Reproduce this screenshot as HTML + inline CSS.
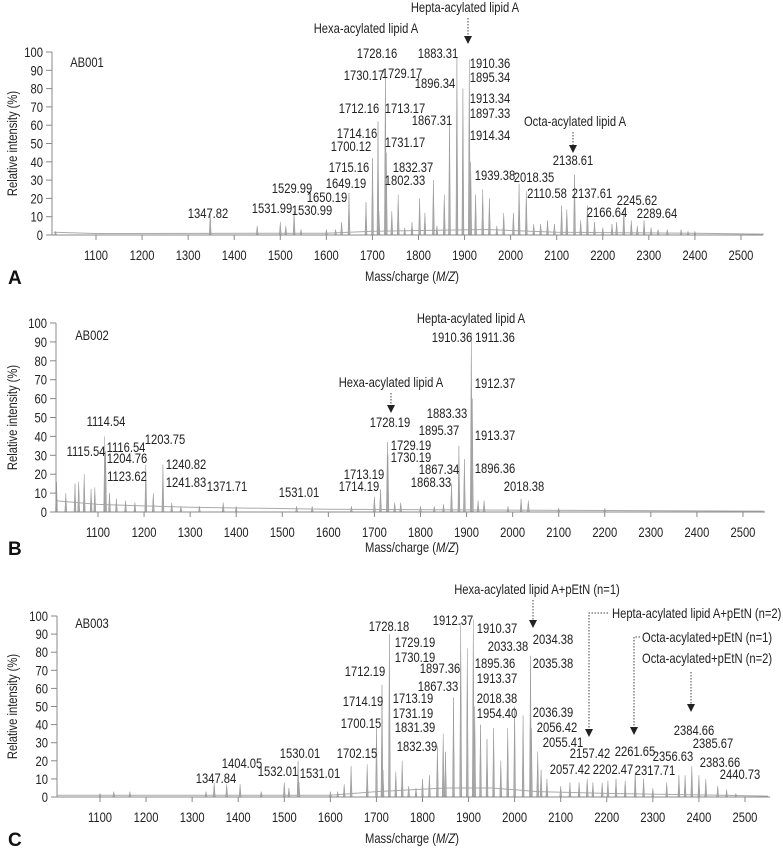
<!DOCTYPE html>
<html><head><meta charset="utf-8">
<style>
html,body{margin:0;padding:0;background:#fff;}
svg{display:block;font-family:"Liberation Sans",sans-serif;}
.lbl{font-size:14px;fill:#222;text-anchor:middle;}
.ann{font-size:14px;fill:#222;}
.tick{font-size:14px;fill:#222;}
.ttl{font-size:14px;fill:#222;}
.pl{font-size:19px;font-weight:bold;fill:#111;font-family:"Liberation Sans",sans-serif;}
</style></head>
<body>
<svg id="fig" width="783" height="853" viewBox="0 0 783 853" xmlns="http://www.w3.org/2000/svg">
<g id="panelA"></g>
<g id="panelB"></g>
<g id="panelC"></g>

<g>
<text class="ann" x="87" y="67" text-anchor="middle">AB001</text>
<text class="ann" x="366" y="33" text-anchor="middle">Hexa-acylated lipid A</text>
<text class="ann" x="465" y="12" text-anchor="middle">Hepta-acylated lipid A</text>
<line x1="468" y1="18" x2="468" y2="36" stroke="#444" stroke-dasharray="1.5,1.5"/>
<polygon points="464,36 472,36 468,44" fill="#222"/>
<text class="ann" x="575" y="126" text-anchor="middle">Octa-acylated lipid A</text>
<line x1="573" y1="132" x2="573" y2="145" stroke="#444" stroke-dasharray="1.5,1.5"/>
<polygon points="569,145 577,145 573,153" fill="#222"/>
<text class="lbl" x="208" y="218">1347.82</text>
<text class="lbl" x="292" y="193">1529.99</text>
<text class="lbl" x="272" y="213">1531.99</text>
<text class="lbl" x="312" y="215">1530.99</text>
<text class="lbl" x="327" y="202">1650.19</text>
<text class="lbl" x="346" y="188">1649.19</text>
<text class="lbl" x="349" y="172">1715.16</text>
<text class="lbl" x="351" y="151">1700.12</text>
<text class="lbl" x="357" y="138">1714.16</text>
<text class="lbl" x="359" y="113">1712.16</text>
<text class="lbl" x="364" y="80">1730.17</text>
<text class="lbl" x="377" y="58">1728.16</text>
<text class="lbl" x="402" y="78">1729.17</text>
<text class="lbl" x="405" y="113">1713.17</text>
<text class="lbl" x="405" y="147">1731.17</text>
<text class="lbl" x="413" y="172">1832.37</text>
<text class="lbl" x="405" y="185">1802.33</text>
<text class="lbl" x="432" y="125">1867.31</text>
<text class="lbl" x="435" y="88">1896.34</text>
<text class="lbl" x="438" y="58">1883.31</text>
<text class="lbl" x="490" y="68">1910.36</text>
<text class="lbl" x="490" y="82">1895.34</text>
<text class="lbl" x="490" y="103">1913.34</text>
<text class="lbl" x="490" y="118">1897.33</text>
<text class="lbl" x="490" y="140">1914.34</text>
<text class="lbl" x="495" y="180">1939.38</text>
<text class="lbl" x="534" y="182">2018.35</text>
<text class="lbl" x="547" y="198">2110.58</text>
<text class="lbl" x="573" y="165">2138.61</text>
<text class="lbl" x="592" y="198">2137.61</text>
<text class="lbl" x="607" y="217">2166.64</text>
<text class="lbl" x="637" y="205">2245.62</text>
<text class="lbl" x="657" y="218">2289.64</text>
</g>

<g>
<text class="ann" x="92" y="340" text-anchor="middle">AB002</text>
<text class="ann" x="471" y="323" text-anchor="middle">Hepta-acylated lipid A</text>
<text class="ann" x="391" y="387" text-anchor="middle">Hexa-acylated lipid A</text>
<line x1="391" y1="393" x2="391" y2="405" stroke="#444" stroke-dasharray="1.5,1.5"/>
<polygon points="387,405 395,405 391,413" fill="#222"/>
<text class="lbl" x="452" y="342">1910.36</text>
<text class="lbl" x="495" y="342">1911.36</text>
<text class="lbl" x="495" y="388">1912.37</text>
<text class="lbl" x="390" y="427">1728.19</text>
<text class="lbl" x="447" y="418">1883.33</text>
<text class="lbl" x="439" y="435">1895.37</text>
<text class="lbl" x="495" y="440">1913.37</text>
<text class="lbl" x="411" y="450">1729.19</text>
<text class="lbl" x="411" y="462">1730.19</text>
<text class="lbl" x="439" y="474">1867.34</text>
<text class="lbl" x="495" y="473">1896.36</text>
<text class="lbl" x="431" y="487">1868.33</text>
<text class="lbl" x="364" y="479">1713.19</text>
<text class="lbl" x="359" y="491">1714.19</text>
<text class="lbl" x="524" y="491">2018.38</text>
<text class="lbl" x="299" y="497">1531.01</text>
<text class="lbl" x="227" y="491">1371.71</text>
<text class="lbl" x="106" y="426">1114.54</text>
<text class="lbl" x="86" y="456">1115.54</text>
<text class="lbl" x="126" y="452">1116.54</text>
<text class="lbl" x="165" y="444">1203.75</text>
<text class="lbl" x="127" y="463">1204.76</text>
<text class="lbl" x="186" y="469">1240.82</text>
<text class="lbl" x="127" y="481">1123.62</text>
<text class="lbl" x="186" y="487">1241.83</text>
</g>

<g>
<text class="ann" x="92" y="628" text-anchor="middle">AB003</text>
<text class="ann" x="537" y="594" text-anchor="middle">Hexa-acylated lipid A+pEtN (n=1)</text>
<line x1="533" y1="600" x2="533" y2="620" stroke="#444" stroke-dasharray="1.5,1.5"/>
<polygon points="529,620 537,620 533,628" fill="#222"/>
<text class="ann" x="612" y="618">Hepta-acylated lipid A+pEtN (n=2)</text>
<polyline points="608,613 589,613 589,729" fill="none" stroke="#444" stroke-dasharray="1.5,1.5"/>
<polygon points="585,729 593,729 589,737" fill="#222"/>
<text class="ann" x="642" y="642">Octa-acylated+pEtN (n=1)</text>
<polyline points="640,637 634,637 634,727" fill="none" stroke="#444" stroke-dasharray="1.5,1.5"/>
<polygon points="630,727 638,727 634,735" fill="#222"/>
<text class="ann" x="642" y="663">Octa-acylated+pEtN (n=2)</text>
<line x1="691" y1="672" x2="691" y2="704" stroke="#444" stroke-dasharray="1.5,1.5"/>
<polygon points="687,704 695,704 691,712" fill="#222"/>
<text class="lbl" x="216" y="783">1347.84</text>
<text class="lbl" x="242" y="768">1404.05</text>
<text class="lbl" x="278" y="776">1532.01</text>
<text class="lbl" x="300" y="758">1530.01</text>
<text class="lbl" x="320" y="778">1531.01</text>
<text class="lbl" x="357" y="758">1702.15</text>
<text class="lbl" x="361" y="728">1700.15</text>
<text class="lbl" x="363" y="706">1714.19</text>
<text class="lbl" x="365" y="676">1712.19</text>
<text class="lbl" x="389" y="631">1728.18</text>
<text class="lbl" x="415" y="647">1729.19</text>
<text class="lbl" x="415" y="662">1730.19</text>
<text class="lbl" x="440" y="673">1897.36</text>
<text class="lbl" x="438" y="691">1867.33</text>
<text class="lbl" x="413" y="703">1713.19</text>
<text class="lbl" x="413" y="718">1731.19</text>
<text class="lbl" x="415" y="732">1831.39</text>
<text class="lbl" x="417" y="751">1832.39</text>
<text class="lbl" x="453" y="625">1912.37</text>
<text class="lbl" x="497" y="633">1910.37</text>
<text class="lbl" x="508" y="651">2033.38</text>
<text class="lbl" x="495" y="668">1895.36</text>
<text class="lbl" x="497" y="683">1913.37</text>
<text class="lbl" x="497" y="703">2018.38</text>
<text class="lbl" x="497" y="718">1954.40</text>
<text class="lbl" x="553" y="644">2034.38</text>
<text class="lbl" x="553" y="668">2035.38</text>
<text class="lbl" x="553" y="717">2036.39</text>
<text class="lbl" x="557" y="732">2056.42</text>
<text class="lbl" x="563" y="747">2055.41</text>
<text class="lbl" x="590" y="758">2157.42</text>
<text class="lbl" x="570" y="774">2057.42</text>
<text class="lbl" x="613" y="774">2202.47</text>
<text class="lbl" x="635" y="756">2261.65</text>
<text class="lbl" x="655" y="775">2317.71</text>
<text class="lbl" x="673" y="761">2356.63</text>
<text class="lbl" x="694" y="735">2384.66</text>
<text class="lbl" x="713" y="748">2385.67</text>
<text class="lbl" x="720" y="767">2383.66</text>
<text class="lbl" x="740" y="779">2440.73</text>
</g>
</svg>
<script>
const xTickValues = [1100,1200,1300,1400,1500,1600,1700,1800,1900,2000,2100,2200,2300,2400,2500];
const yTickValues = [0,10,20,30,40,50,60,70,80,90,100];

const mzA  = [1012,1347.82,1450,1500,1512,1529.99,1545,1600,1620,1633,1649.19,1686,1700.12,1712.16,1714.16,1728.16,1730.17,1742,1756,1770,1786,1802.33,1814,1832.37,1840,1856,1867.31,1883.31,1896.34,1910.36,1913.34,1924,1939.38,1954,1970,1985,2006,2018.35,2034,2050,2065,2080,2095,2110.58,2122,2138.61,2152,2166.64,2182,2200,2220,2230,2245.62,2262,2275,2289.64,2305,2320,2340,2370,2385,2400];
const intA = [2,12,5,7,5,13,3,3,3,7,23,18,42,62,13,91,45,13,22,4,7,20,12,30,5,22,62,97,80,96,40,22,25,20,5,12,12,28,24,6,6,8,6,16,14,33,8,16,7,4,6,7,14,8,5,8,4,3,3,3,2,2];
const baseMzA  = [1008,1100,1600,1700,1950,2100,2400,2550];
const baseIntA = [1.5,0.8,1,2,3,1.5,1,0.5];

const mzB  = [1010,1030,1050,1058,1070,1085,1093,1114.54,1116.54,1125,1140,1160,1180,1203.75,1220,1240.82,1260,1280,1320,1371.71,1400,1531.01,1565,1650,1700,1713.19,1728.19,1729.19,1744,1757,1800,1830,1850,1867.34,1883.33,1895.37,1910.36,1912.37,1925,1938,1990,2018.38,2034,2100,2200];
const intB = [16,10,15,16,20,12,13,40,32,10,7,6,5,25,10,25,5,3,3,5,3,3,3,3,8,12,37,30,5,5,3,3,4,15,35,28,95,60,6,6,3,7,6,2,2];
const baseMzB  = [1008,1100,1300,1600,2000,2545];
const baseIntB = [6,4,2.5,1.5,1,0.5];

const mzC  = [1100,1130,1165,1330,1347.84,1375,1404.05,1450,1500,1510,1530.01,1532.01,1600,1616,1630,1645,1680,1700.15,1712.19,1714.19,1728.18,1742,1756,1770,1786,1800,1815,1832.39,1845,1850,1867.33,1883,1897.36,1910.37,1913.37,1926,1940,1954.4,1970,1985,2000,2018.38,2034.38,2036.39,2050,2057.42,2070,2100,2120,2140,2157.42,2170,2190,2202.47,2220,2240,2261.65,2280,2300,2330,2356.63,2370,2384.66,2400,2415,2440.73,2460,2480];
const intC = [2,3,3,3,8,7,7,3,8,5,20,8,3,3,7,17,18,38,62,15,90,14,20,6,5,10,12,28,35,25,55,96,82,98,50,40,32,38,20,38,50,45,78,38,25,15,10,6,8,8,10,8,8,9,10,9,14,10,5,8,12,12,17,12,10,6,4,2];
const baseMzC  = [1008,1600,1700,1850,1950,2050,2200,2450,2550];
const baseIntC = [1,1,3,5,5,3,2,1,0.5];

const panels = {
  A:{id:'panelA', x1100:96, y0:235, y100:52, left:52, right:763, title:281, letter:'A'},
  B:{id:'panelB', x1100:98, y0:512, y100:323, left:56, right:765, title:552, letter:'B'},
  C:{id:'panelC', x1100:100, y0:797, y100:616, left:57, right:770, title:843, letter:'C'}
};
const NS='http://www.w3.org/2000/svg';
function mk(tag, attrs, parent){
  const e=document.createElementNS(NS,tag);
  for(const k in attrs) e.setAttribute(k, attrs[k]);
  parent.appendChild(e); return e;
}
function drawPanel(p, mz, inten, bMz, bInt, key){
  const g=document.getElementById(p.id);
  const xs = m => p.x1100 + (m-1100)*0.4607;
  const ys = v => p.y0 - (v/100)*(p.y0-p.y100);
  let pts=[];
  for(let i=0;i<bMz.length;i++) pts.push(xs(Math.max(bMz[i],1008)).toFixed(1)+','+ys(bInt[i]).toFixed(1));
  const base=mk('polyline',{points:pts.join(' '),fill:'none',stroke:'#aaa','stroke-width':1},g);
  
  
  for(let i=0;i<mz.length;i++){
    const x=xs(mz[i]), y=ys(inten[i]), yb=p.y0;
    const pk=mk('polygon',{points:`${(x-1).toFixed(1)},${yb} ${x.toFixed(1)},${y.toFixed(1)} ${(x+1).toFixed(1)},${yb}`,fill:'#aaa',stroke:'#999','stroke-width':0.5},g);
    
    
  }
  const ax=mk('line',{x1:p.left,y1:p.y0,x2:p.right,y2:p.y0,stroke:'#888','stroke-width':1},g);
  
  
  const ay=mk('line',{x1:p.left,y1:p.y0,x2:p.left,y2:p.y100,stroke:'#888','stroke-width':1},g);
  
  
  xTickValues.forEach(v=>{
    const x=xs(v);
    mk('line',{x1:x,y1:p.y0,x2:x,y2:p.y0+5,stroke:'#888'},g);
    const t=mk('text',{x:x,y:p.y0+25,class:'tick','text-anchor':'middle'},g);
    t.textContent=v;
    
    
  });
  yTickValues.forEach(v=>{
    const y=ys(v);
    mk('line',{x1:p.left-6,y1:y,x2:p.left,y2:y,stroke:'#888'},g);
    const t=mk('text',{x:p.left-9,y:y+5,class:'tick','text-anchor':'end'},g);
    t.textContent=v;
    
    
  });
  const yt=mk('text',{class:'ttl','text-anchor':'middle',transform:`translate(17,${(p.y0+p.y100)/2}) rotate(-90)`},g);
  yt.textContent='Relative intensity (%)';
  
  
  const xt=mk('text',{class:'ttl','text-anchor':'middle',x:412,y:p.title},g);
  xt.innerHTML='Mass/charge (<tspan font-style="italic">M/Z</tspan>)';
  
  
  const lt=mk('text',{class:'pl',x:8,y:p.title+3},g);
  lt.textContent=p.letter;
  
  
}
drawPanel(panels.A, mzA, intA, baseMzA, baseIntA, 'a');
drawPanel(panels.B, mzB, intB, baseMzB, baseIntB, 'b');
drawPanel(panels.C, mzC, intC, baseMzC, baseIntC, 'c');

// condense text to mimic the narrow font of the reference
document.querySelectorAll('#fig text.lbl, #fig text.ann, #fig text.tick, #fig text.ttl').forEach(t=>{
  const w=t.getComputedTextLength();
  if(w>0){
    t.setAttribute('textLength', (w*0.8).toFixed(1));
    t.setAttribute('lengthAdjust', 'spacingAndGlyphs');
  }
});
</script>
</body></html>
